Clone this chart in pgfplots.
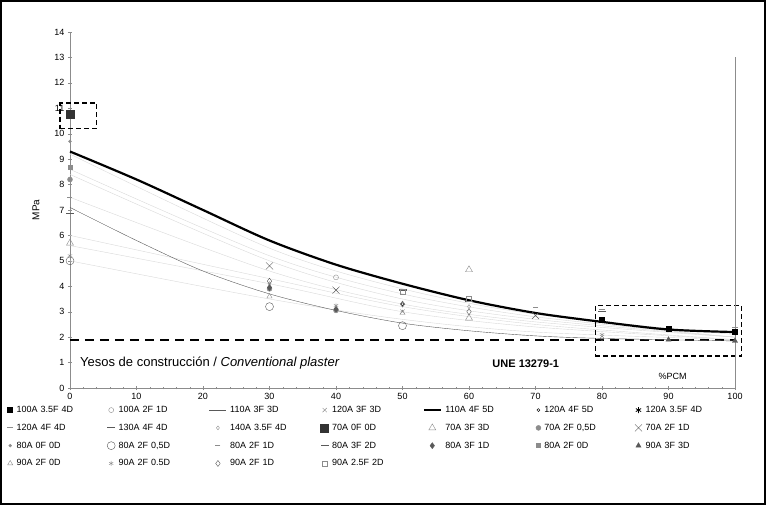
\documentclass[border=0pt]{standalone}
\usepackage{pgfplots}
\pgfplotsset{compat=1.18}
\usepackage{fontspec}
\setmainfont{Liberation Sans}
\usetikzlibrary{plotmarks}
\definecolor{g1}{gray}{0.35}
\definecolor{g2}{gray}{0.55}
\definecolor{g3}{gray}{0.85}
\begin{document}
\begin{tikzpicture}
\useasboundingbox (-70pt,-117pt) rectangle (696pt,388pt);
\begin{axis}[
  scale only axis, width=665pt, height=356pt,
  at={(0,0)}, anchor=south west,
  xmin=0, xmax=100, ymin=0, ymax=14,
  axis x line=bottom, axis y line=left, axis line style={-,g2},
  xtick={0,10,...,100}, ytick={0,1,...,14},
  minor x tick num=4, tick style={g2},
  tick label style={font=\fontsize{9}{10}\selectfont},
  /pgf/number format/assume math mode=true,
  ylabel={MPa}, ylabel style={font=\fontsize{10}{11}\selectfont, yshift=8pt},
  clip=false,
  legend columns=7,
  legend style={at={(0,0)}, anchor=north west, xshift=-66pt, yshift=-15pt,
    draw=none, fill=none, font=\fontsize{9}{10}\selectfont,
    nodes={text width=87pt, align=left, inner sep=1pt},
    /tikz/column sep=2.5pt,
    row sep=8pt},
  legend cell align=left,
  every axis plot/.append style={mark options={solid}},
]
% trend lines (light)
\addplot[g3, smooth, forget plot] coordinates {(0,9.2)(30,5.5)(50,3.9)(70,2.9)(100,2.1)};
\addplot[g3, smooth, forget plot] coordinates {(0,8.6)(30,5.2)(50,3.7)(70,2.8)(100,2.0)};
\addplot[g3, smooth, forget plot] coordinates {(0,8.4)(30,5.0)(50,3.5)(70,2.7)(100,2.0)};
\addplot[g3, smooth, forget plot] coordinates {(0,7.5)(30,4.6)(50,3.3)(70,2.6)(100,2.0)};
\addplot[g3, smooth, forget plot] coordinates {(0,6.0)(30,4.3)(50,3.2)(70,2.5)(100,1.9)};
\addplot[g3, smooth, forget plot] coordinates {(0,5.6)(30,4.1)(50,3.0)(70,2.4)(100,1.9)};
\addplot[g3, smooth, forget plot] coordinates {(0,5.0)(30,3.5)(50,2.7)(70,2.2)(100,1.9)};
% reference line and boxes
\addplot[black, line width=2pt, dash pattern=on 9pt off 6pt, forget plot] coordinates {(0,1.9)(100,1.9)};
\addplot[black, line width=1.5pt, dash pattern=on 5pt off 3pt, forget plot] coordinates {(-1.5,10.2)(4,10.2)(4,11.2)(-1.5,11.2)(-1.5,10.2)};
\addplot[black, line width=1.5pt, dash pattern=on 5pt off 3pt, forget plot] coordinates {(79,1.25)(101,1.25)(101,3.25)(79,3.25)(79,1.25)};
% series
\addplot[only marks, mark=square*, black, mark size=2.5pt] coordinates {(80,2.7)(90,2.35)(100,2.2)};
\addlegendentry{100A 3.5F 4D}
\addplot[only marks, mark=o, g2, densely dotted, mark size=2.5pt] coordinates {(40,4.35)};
\addlegendentry{100A 2F 1D}
\addplot[g1, smooth, mark=diamond, mark indices={9}, mark size=2.5pt] coordinates {(0,7.1)(10,5.8)(20,4.6)(30,3.7)(40,3.05)(50,2.55)(60,2.25)(70,2.05)(80,1.95)(100,1.85)};
\addlegendentry{110A 3F 3D}
\addplot[only marks, mark=x, g2, mark size=3pt] coordinates {(40,3.85)(50,3.0)};
\addlegendentry{120A 3F 3D}
\addplot[black, line width=2.2pt, smooth, mark=|, mark indices={30}] coordinates {(0,9.3)(10,8.2)(20,7.0)(30,5.8)(40,4.85)(50,4.1)(60,3.45)(70,2.95)(80,2.6)(90,2.3)(100,2.2)};
\addlegendentry{110A 4F 5D}
\addplot[only marks, mark=o, black, mark size=1.5pt] coordinates {(50,3.3)};
\addlegendentry{120A 4F 5D}
\addplot[only marks, mark=asterisk, black, mark size=3pt, thick] coordinates {(100,2.2)};
\addlegendentry{120A 3.5F 4D}
\addplot[only marks, mark=-, g2, mark size=3pt, thick] coordinates {(80,3.1)(100,2.4)};
\addlegendentry{120A 4F 4D}
\addplot[only marks, mark=-, g1, mark size=4pt, very thick] coordinates {(50,3.85)(60,3.4)};
\addlegendentry{130A 4F 4D}
\addplot[only marks, mark=diamond, g2, mark size=2pt] coordinates {(30,4.1)(60,3.2)};
\addlegendentry{140A 3.5F 4D}
\addplot[only marks, mark=square*, black!80, mark size=4pt] coordinates {(0,10.75)};
\addlegendentry{70A 0F 0D}
\addplot[only marks, mark=triangle, g2, mark size=4pt] coordinates {(0,5.7)(60,4.65)(60,2.75)};
\addlegendentry{70A 3F 3D}
\addplot[only marks, mark=*, g2, mark size=2.5pt] coordinates {(0,8.2)(30,3.9)(40,3.05)};
\addlegendentry{70A 2F 0,5D}
\addplot[only marks, mark=x, g1, mark size=5pt] coordinates {(30,4.8)(40,3.85)(70,2.85)};
\addlegendentry{70A 2F 1D}
\addplot[only marks, mark=*, g2, mark size=1.5pt] coordinates {(0,9.7)};
\addlegendentry{80A 0F 0D}
\addplot[only marks, mark=o, g1, mark size=4pt] coordinates {(0,5.0)(30,3.2)(50,2.45)};
\addlegendentry{80A 2F 0,5D}
\addplot[only marks, mark=-, g2, mark size=2.5pt, thick] coordinates {(0,7.5)(70,3.15)};
\addlegendentry{80A 2F 1D}
\addplot[only marks, mark=-, g1, mark size=4pt, thick] coordinates {(0,6.85)(80,3.0)};
\addlegendentry{80A 3F 2D}
\addplot[only marks, mark=diamond*, g1, mark size=3pt] coordinates {(30,3.95)(40,3.1)};
\addlegendentry{80A 3F 1D}
\addplot[only marks, mark=square*, g2, mark size=2pt] coordinates {(0,8.7)};
\addlegendentry{80A 2F 0D}
\addplot[only marks, mark=triangle*, g1, mark size=3pt] coordinates {(90,1.9)(100,1.85)};
\addlegendentry{90A 3F 3D}
\addplot[only marks, mark=triangle, g2, mark size=3pt] coordinates {(30,3.6)(50,2.95)};
\addlegendentry{90A 2F 0D}
\addplot[only marks, mark=asterisk, g2, mark size=2.5pt] coordinates {(0,5.2)(40,3.25)(80,2.1)};
\addlegendentry{90A 2F 0.5D}
\addplot[only marks, mark=diamond, g1, mark size=3pt] coordinates {(30,4.2)(50,3.3)(60,3.0)};
\addlegendentry{90A 2F 1D}
\addplot[only marks, mark=square, dotted, g2, mark size=2.5pt] coordinates {(50,3.8)(60,3.5)};
\addlegendentry{90A 2.5F 2D}
% texts
\node[anchor=west, font=\fontsize{13}{14}\selectfont] at (axis cs:1,1.0) {Yesos de construcción / \textit{Conventional plaster}};
\node[anchor=west, font=\bfseries\fontsize{11}{12}\selectfont] at (axis cs:63,0.95) {UNE 13279-1};
\node[anchor=west, font=\fontsize{9}{10}\selectfont] at (axis cs:88,0.45) {\%PCM};
\draw[g2] (axis cs:100,0) -- (axis cs:100,13);
\end{axis}
\draw[line width=2pt] (-69pt,-116pt) rectangle (695pt,387pt);
\end{tikzpicture}
\end{document}
